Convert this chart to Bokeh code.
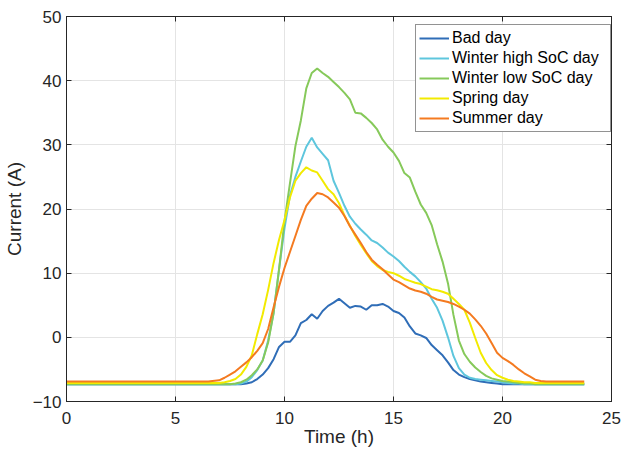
from bokeh.plotting import figure
from bokeh.models import Range1d, Legend, LegendItem, FixedTicker, LinearAxis, CustomLabelingPolicy
from bokeh.embed import file_html
from bokeh.resources import INLINE

# Time axis (hours)
hours = [0, 1, 2, 3, 4, 5, 6, 6.5,
         7.0, 7.25, 7.5, 7.75, 8.0, 8.25, 8.5, 8.75,
         9.0, 9.25, 9.5, 9.75, 10.0, 10.25, 10.5, 10.75,
         11.0, 11.25, 11.5, 11.75, 12.0, 12.25, 12.5, 12.75,
         13.0, 13.25, 13.5, 13.75, 14.0, 14.25, 14.5, 14.75,
         15.0, 15.25, 15.5, 15.75, 16.0, 16.25, 16.5, 16.75,
         17.0, 17.25, 17.5, 17.75, 18.0, 18.25, 18.5, 18.75,
         19.0, 19.25, 19.5, 19.75, 20.0, 20.25, 20.5, 20.75,
         21.0, 21.25, 21.5, 21.75, 22.0, 22.5, 23.0, 23.75]

bad_day = [-7.3, -7.3, -7.3, -7.3, -7.3, -7.3, -7.3, -7.3,
           -7.3, -7.3, -7.3, -7.3, -7.3, -7.2, -7.0, -6.5,
           -5.8, -4.8, -3.4, -1.5, -0.7, -0.7, 0.3, 2.2,
           2.7, 3.6, 2.9, 4.1, 4.9, 5.4, 6.0, 5.3,
           4.6, 4.9, 4.8, 4.3, 5.0, 5.0, 5.2, 4.8,
           4.1, 3.8, 3.1, 1.7, 0.6, 0.3, -0.1, -1.2,
           -2.0, -2.8, -3.9, -5.1, -5.8, -6.2, -6.5, -6.7,
           -6.9, -7.0, -7.1, -7.2, -7.3, -7.3, -7.3, -7.3,
           -7.3, -7.3, -7.3, -7.3, -7.3, -7.3, -7.3, -7.3]

winter_high = [-7.3, -7.3, -7.3, -7.3, -7.3, -7.3, -7.3, -7.3,
               -7.3, -7.3, -7.3, -7.3, -7.2, -6.9, -6.2, -5.1,
               -3.6, -0.5, 3.8, 10.6, 17.0, 22.1, 25.0, 27.4,
               29.7, 31.1, 29.6, 28.6, 27.6, 24.4, 22.5, 20.5,
               18.8, 17.7, 16.8, 16.0, 15.1, 14.7, 14.0, 13.2,
               12.6, 11.9, 11.0, 10.2, 9.5, 8.6, 7.6, 6.0,
               4.6, 2.6, 0.0, -2.9, -4.8, -5.8, -6.3, -6.5,
               -6.6, -6.7, -6.8, -6.9, -7.0, -7.1, -7.2, -7.2,
               -7.3, -7.3, -7.3, -7.3, -7.3, -7.3, -7.3, -7.3]

winter_low = [-7.3, -7.3, -7.3, -7.3, -7.3, -7.3, -7.3, -7.3,
              -7.3, -7.3, -7.3, -7.2, -7.0, -6.6, -5.9, -5.0,
              -3.6, -0.8, 3.8, 10.6, 18.1, 24.0, 29.8, 33.8,
              38.8, 41.2, 41.9, 41.2, 40.6, 39.8, 39.0, 38.1,
              37.1, 35.0, 34.9, 34.2, 33.4, 32.4, 30.8, 29.7,
              28.8, 27.5, 25.6, 24.9, 22.7, 20.7, 19.4, 17.5,
              14.5, 11.8, 8.4, 3.5, -0.5, -2.6, -3.8, -4.7,
              -5.4, -6.0, -6.4, -6.6, -6.8, -6.9, -7.0, -7.1,
              -7.2, -7.2, -7.3, -7.3, -7.3, -7.3, -7.3, -7.3]

spring_day = [-7.1, -7.1, -7.1, -7.1, -7.1, -7.1, -7.1, -7.1,
              -7.1, -7.0, -6.8, -6.5, -5.8, -4.6, -2.8, 0.5,
              3.6, 7.4, 11.6, 15.2, 18.3, 21.8, 24.4, 25.6,
              26.5, 26.0, 25.7, 24.4, 23.1, 22.3, 20.9, 19.0,
              17.4, 15.8, 14.4, 13.1, 11.9, 11.1, 10.5, 10.2,
              10.0, 9.6, 9.1, 8.8, 8.5, 8.3, 7.9, 7.5,
              7.35, 7.1, 6.8, 6.0, 5.2, 4.3, 2.3, -0.1,
              -2.4, -4.0, -5.1, -5.9, -6.3, -6.6, -6.8, -6.9,
              -7.0, -7.0, -7.1, -7.1, -7.1, -7.1, -7.1, -7.1]

summer_day = [-6.9, -6.9, -6.9, -6.9, -6.9, -6.9, -6.9, -6.9,
              -6.7, -6.3, -5.8, -5.3, -4.6, -3.9, -3.1, -2.1,
              -0.9, 1.3, 4.7, 7.9, 10.8, 13.3, 15.8, 18.3,
              20.5, 21.6, 22.5, 22.3, 21.8, 21.0, 20.2, 18.9,
              17.3, 16.0, 14.7, 13.3, 12.1, 11.3, 10.6, 9.8,
              9.0, 8.6, 8.1, 7.6, 7.3, 7.1, 6.8, 6.3,
              5.9, 5.7, 5.5, 5.2, 4.8, 4.3, 3.7, 2.8,
              1.8, 0.6, -0.9, -2.4, -3.2, -3.7, -4.3, -5.0,
              -5.6, -6.1, -6.6, -6.8, -6.9, -6.9, -6.9, -6.9]

series_names = ["Bad day", "Winter high SoC day", "Winter low SoC day", "Spring day", "Summer day"]
series_values = [bad_day, winter_high, winter_low, spring_day, summer_day]
series_colors = ["#2f6db7", "#5ec6dd", "#86c95a", "#f2ea00", "#f47a20"]

x_ticks = [0, 5, 10, 15, 20, 25]
y_ticks = [-10, 0, 10, 20, 30, 40, 50]

FONT = "Liberation Sans"
TXT = "#262626"

p = figure(width=623, height=449, output_backend="svg", toolbar_location=None,
           x_range=Range1d(0, 25), y_range=Range1d(-10, 50),
           min_border_left=61, min_border_right=12, min_border_top=16, min_border_bottom=40)
p.background_fill_color = "white"
p.border_fill_color = "white"
p.outline_line_color = TXT
p.outline_line_width = 1

for ax, ticks in ((p.xaxis[0], x_ticks), (p.yaxis[0], y_ticks)):
    ax.ticker = FixedTicker(ticks=ticks)
    ax.major_tick_in = 5
    ax.major_tick_out = 0
    ax.minor_tick_line_color = None
    ax.axis_line_color = TXT
    ax.major_tick_line_color = TXT
    ax.major_label_text_font = FONT
    ax.major_label_text_font_size = "17px"
    ax.major_label_text_color = TXT
    ax.axis_label_text_font = FONT
    ax.axis_label_text_font_size = "19px"
    ax.axis_label_text_font_style = "normal"
    ax.axis_label_text_color = TXT

p.xaxis.axis_label = "Time (h)"
p.yaxis.axis_label = "Current (A)"
p.xaxis.major_label_standoff = 10
p.xaxis.axis_label_standoff = -1
p.yaxis.major_label_standoff = 5
p.yaxis.axis_label_standoff = 5

# box ticks on the top and right edges (no labels)
hide_all = CustomLabelingPolicy(code="""
const keep = []
for (const i of indices) keep.push(i)
for (const i of keep) indices.unset(i)
return indices
""")
for loc, ticks in (("above", x_ticks), ("right", y_ticks)):
    ax = LinearAxis(ticker=FixedTicker(ticks=ticks), major_label_policy=hide_all)
    ax.major_tick_in = 5
    ax.major_tick_out = 0
    ax.minor_tick_line_color = None
    ax.axis_line_color = TXT
    ax.major_tick_line_color = TXT
    ax.major_label_text_font_size = "1px"
    ax.major_label_standoff = 0
    p.add_layout(ax, loc)

p.xgrid.ticker = FixedTicker(ticks=x_ticks)
p.ygrid.ticker = FixedTicker(ticks=y_ticks)
p.xgrid.grid_line_color = "#e4e4e4"
p.ygrid.grid_line_color = "#e4e4e4"

items = []
for name, vals, col in zip(series_names, series_values, series_colors):
    r = p.line(hours, vals, line_color=col, line_width=2)
    items.append(LegendItem(label=name, renderers=[r]))

legend = Legend(items=items, location=(349, 269))
legend.padding = 3
legend.spacing = 0
legend.glyph_width = 30
legend.glyph_height = 20
legend.label_height = 20
legend.label_width = 155
legend.label_standoff = 3
legend.label_text_font = FONT
legend.label_text_font_size = "16px"
legend.label_text_color = "#000000"
legend.border_line_color = TXT
legend.border_line_width = 1
legend.background_fill_color = "white"
legend.background_fill_alpha = 1
p.add_layout(legend, "center")

open("out.html", "w").write(file_html(p, INLINE))
